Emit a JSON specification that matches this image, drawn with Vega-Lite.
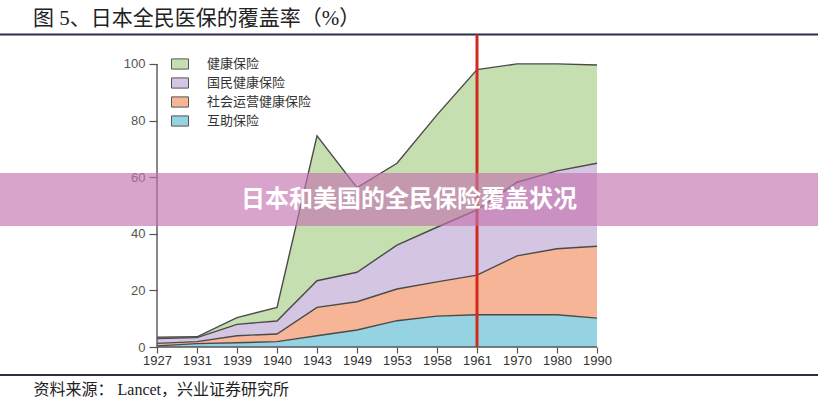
{
  "$schema": "https://vega.github.io/schema/vega-lite/v6.json",
  "width": 818,
  "height": 342,
  "autosize": {"type": "none"},
  "padding": {"left": 0, "top": 34, "right": 0, "bottom": 24},
  "background": "white",
  "title": {
    "text": "图 5、日本全民医保的覆盖率（%）",
    "anchor": "start",
    "frame": "group",
    "dx": 33,
    "offset": 4,
    "font": "Liberation Serif, Noto Sans CJK SC",
    "fontSize": 21,
    "fontWeight": "normal",
    "color": "#222222"
  },
  "data": {
    "values": [
      {"year": "1927", "type": "互助保险", "value": 0.4},
      {"year": "1931", "type": "互助保险", "value": 1.2},
      {"year": "1939", "type": "互助保险", "value": 1.5},
      {"year": "1940", "type": "互助保险", "value": 1.9},
      {"year": "1943", "type": "互助保险", "value": 4.0},
      {"year": "1949", "type": "互助保险", "value": 6.0},
      {"year": "1953", "type": "互助保险", "value": 9.3},
      {"year": "1958", "type": "互助保险", "value": 10.9},
      {"year": "1961", "type": "互助保险", "value": 11.4},
      {"year": "1970", "type": "互助保险", "value": 11.4},
      {"year": "1980", "type": "互助保险", "value": 11.4},
      {"year": "1990", "type": "互助保险", "value": 10.2},
      {"year": "1927", "type": "社会运营健康保险", "value": 0.9},
      {"year": "1931", "type": "社会运营健康保险", "value": 0.7},
      {"year": "1939", "type": "社会运营健康保险", "value": 2.5},
      {"year": "1940", "type": "社会运营健康保险", "value": 2.7},
      {"year": "1943", "type": "社会运营健康保险", "value": 10.0},
      {"year": "1949", "type": "社会运营健康保险", "value": 10.0},
      {"year": "1953", "type": "社会运营健康保险", "value": 11.2},
      {"year": "1958", "type": "社会运营健康保险", "value": 12.1},
      {"year": "1961", "type": "社会运营健康保险", "value": 14.0},
      {"year": "1970", "type": "社会运营健康保险", "value": 20.8},
      {"year": "1980", "type": "社会运营健康保险", "value": 23.3},
      {"year": "1990", "type": "社会运营健康保险", "value": 25.4},
      {"year": "1927", "type": "国民健康保险", "value": 1.7},
      {"year": "1931", "type": "国民健康保险", "value": 1.4},
      {"year": "1939", "type": "国民健康保险", "value": 4.0},
      {"year": "1940", "type": "国民健康保险", "value": 4.6},
      {"year": "1943", "type": "国民健康保险", "value": 9.4},
      {"year": "1949", "type": "国民健康保险", "value": 10.4},
      {"year": "1953", "type": "国民健康保险", "value": 15.5},
      {"year": "1958", "type": "国民健康保险", "value": 19.3},
      {"year": "1961", "type": "国民健康保险", "value": 23.0},
      {"year": "1970", "type": "国民健康保险", "value": 26.0},
      {"year": "1980", "type": "国民健康保险", "value": 27.5},
      {"year": "1990", "type": "国民健康保险", "value": 29.3},
      {"year": "1927", "type": "健康保险", "value": 0.5},
      {"year": "1931", "type": "健康保险", "value": 0.3},
      {"year": "1939", "type": "健康保险", "value": 2.4},
      {"year": "1940", "type": "健康保险", "value": 4.8},
      {"year": "1943", "type": "健康保险", "value": 51.2},
      {"year": "1949", "type": "健康保险", "value": 29.9},
      {"year": "1953", "type": "健康保险", "value": 28.9},
      {"year": "1958", "type": "健康保险", "value": 39.7},
      {"year": "1961", "type": "健康保险", "value": 49.6},
      {"year": "1970", "type": "健康保险", "value": 41.8},
      {"year": "1980", "type": "健康保险", "value": 37.8},
      {"year": "1990", "type": "健康保险", "value": 34.7}
    ]
  },
  "transform": [
    {"calculate": "indexof(['互助保险', '社会运营健康保险', '国民健康保险', '健康保险'], datum.type)", "as": "k"}
  ],
  "layer": [
    {
      "mark": {"type": "area", "opacity": 1},
      "encoding": {
        "x": {
          "field": "year",
          "type": "ordinal",
          "scale": {"type": "point", "range": [157, 597], "padding": 0},
          "axis": {
            "labelAngle": 0,
            "domain": false,
            "grid": false,
            "offset": -29,
            "tickSize": 6,
            "tickColor": "#555555",
            "tickWidth": 1.2,
            "labelPadding": 1,
            "labelFont": "Liberation Sans Narrow, Liberation Sans",
            "labelFontSize": 13,
            "labelColor": "#333333",
            "title": "资料来源：  Lancet，兴业证券研究所",
            "titleFont": "Liberation Serif, Noto Sans CJK SC",
            "titleFontSize": 16,
            "titleFontWeight": "normal",
            "titleColor": "#222222",
            "titleAlign": "left",
            "titleBaseline": "middle",
            "titleX": 33,
            "titleY": 42
          }
        },
        "y": {
          "field": "value",
          "type": "quantitative",
          "stack": "zero",
          "scale": {"domain": [-10.24, 110.56], "nice": false, "zero": false},
          "axis": {
            "values": [0, 20, 40, 60, 80, 100],
            "domain": false,
            "grid": false,
            "offset": -157,
            "tickSize": 8,
            "tickColor": "#555555",
            "tickWidth": 1.2,
            "labelPadding": 4,
            "labelFont": "Liberation Sans",
            "labelFontSize": 13,
            "labelColor": "#555555",
            "title": null
          }
        },
        "color": {
          "field": "type",
          "type": "nominal",
          "scale": {
            "domain": ["健康保险", "国民健康保险", "社会运营健康保险", "互助保险"],
            "range": ["#c6dfb0", "#d4c6e3", "#f6b597", "#95d2e2"]
          },
          "legend": {
            "orient": "none",
            "legendX": 171,
            "legendY": 21,
            "title": null,
            "symbolType": "M-1,-0.6H1V0.6H-1Z",
            "symbolSize": 289,
            "symbolOpacity": 1,
            "symbolStrokeColor": "#555555",
            "symbolStrokeWidth": 1,
            "labelFont": "Liberation Serif, Noto Sans CJK SC",
            "labelFontSize": 13,
            "labelColor": "#333333",
            "labelOffset": 18,
            "rowPadding": 2
          }
        },
        "order": {"field": "k", "type": "quantitative"}
      }
    },
    {
      "mark": {"type": "line", "color": "#4a4a4a", "strokeWidth": 1.4},
      "encoding": {
        "x": {"field": "year", "type": "ordinal"},
        "y": {"field": "value", "type": "quantitative", "stack": "zero"},
        "detail": {"field": "type", "type": "nominal"},
        "order": {"field": "k", "type": "quantitative"}
      }
    },
    {
      "data": {"values": [{}]},
      "mark": {"type": "rule", "color": "#555555", "strokeWidth": 1.4},
      "encoding": {
        "x": {"datum": "1927", "type": "ordinal"},
        "y": {"datum": 0, "type": "quantitative"},
        "y2": {"datum": 100}
      }
    },
    {
      "data": {"values": [{}]},
      "mark": {"type": "rule", "color": "#555555", "strokeWidth": 1.4},
      "encoding": {
        "x": {"datum": "1927", "type": "ordinal"},
        "x2": {"datum": "1990"},
        "y": {"datum": 0, "type": "quantitative"}
      }
    },
    {
      "data": {"values": [{}]},
      "mark": {"type": "rule", "color": "#2b2f4c", "strokeWidth": 2},
      "encoding": {
        "y": {"datum": 110.4, "type": "quantitative"}
      }
    },
    {
      "data": {"values": [{}]},
      "mark": {"type": "rule", "color": "#2b2f4c", "strokeWidth": 2},
      "encoding": {
        "y": {"datum": -9.9, "type": "quantitative"}
      }
    },
    {
      "data": {"values": [{}]},
      "mark": {"type": "rule", "color": "#d42a1e", "strokeWidth": 3},
      "encoding": {
        "x": {"datum": "1961", "type": "ordinal"},
        "y": {"datum": 0, "type": "quantitative"},
        "y2": {"datum": 110.4}
      }
    },
    {
      "data": {"values": [{}]},
      "mark": {"type": "rect", "color": "#c373af", "opacity": 0.65},
      "encoding": {
        "y": {"datum": 61.46, "type": "quantitative"},
        "y2": {"datum": 42.74}
      }
    },
    {
      "data": {"values": [{}]},
      "mark": {
        "type": "text",
        "text": "日本和美国的全民保险覆盖状况",
        "font": "Noto Sans CJK SC",
        "fontWeight": "bold",
        "fontSize": 24,
        "color": "white",
        "align": "center",
        "baseline": "middle"
      },
      "encoding": {
        "y": {"datum": 52.1, "type": "quantitative"}
      }
    }
  ],
  "config": {
    "view": {"stroke": null}
  }
}
